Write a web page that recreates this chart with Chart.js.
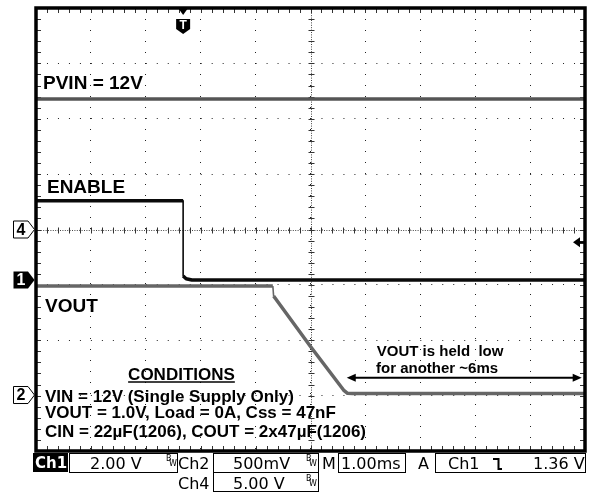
<!DOCTYPE html>
<html>
<head>
<meta charset="utf-8">
<title>Scope capture</title>
<script src="https://cdn.jsdelivr.net/npm/chart.js@4.4.1/dist/chart.umd.min.js"></script>
<style>
  html, body { margin: 0; padding: 0; background: #fff; }
  #wrap { width: 598px; height: 496px; }
</style>
</head>
<body>
<div id="wrap"><canvas id="ScopeCanvas" width="598" height="496"></canvas></div>
<script>
// screen is 10 div across, 8 div tall (y = 0 at centre line)
var timePerDiv = 1.0;      // ms/div
var triggerDiv = 2.68;     // trigger position, div from left edge
var triggerLevel = 1.36;   // V, Ch1 falling

// channel setup: volts/div and ground marker position (div from centre)
var ch1Scale = 2.0, ch1Offset = -0.912;   // ENABLE
var ch2Scale = 0.5, ch2Offset = -2.989;   // VOUT
var ch4Scale = 5.0, ch4Offset = 0;        // PVIN

// traces, time in ms from trigger
var pvinTime  = [-2.68, 7.32];
var pvinVolts = [11.78, 11.78];

var enableTime  = [-2.68, 0, 0, 0.055, 0.16, 7.32];
var enableVolts = [2.864, 2.864, 0.144, 0.047, 0, 0];

var voutTime  = [-2.68, 1.634, 1.648, 2.313, 2.922, 2.995, 3.08, 7.32];
var voutVolts = [0.984, 0.984, 0.894, 0.442, 0.045, 0.015, 0.014, 0.014];

// status bar readouts
var chLabels   = ["Ch1", "Ch2", "Ch4"];
var chReadouts = ["2.00 V", "500mV", "5.00 V"];
var timeReadout = "1.00ms";

var BOLD = '"Liberation Sans", Arial, sans-serif';
var MONO = '"DejaVu Sans", sans-serif';

function toPoints(times, volts, scale, offset) {
    return times.map(function (t, i) {
        return { x: triggerDiv + t / timePerDiv, y: offset + volts[i] / scale };
    });
}

function thinVertical(c) {
    return Math.abs(c.p0.parsed.x - c.p1.parsed.x) < 0.03 ? 1.6 : undefined;
}

function seg(ctx, x1, y1, x2, y2) {
    ctx.beginPath();
    ctx.moveTo(x1, y1);
    ctx.lineTo(x2, y2);
    ctx.stroke();
}

function drawChannelTag(ctx, label, y, filled) {
    ctx.beginPath();
    ctx.moveTo(13.5, y - 8.5);
    ctx.lineTo(28, y - 8.5);
    ctx.lineTo(34.5, y);
    ctx.lineTo(28, y + 8.5);
    ctx.lineTo(13.5, y + 8.5);
    ctx.closePath();
    if (filled) {
        ctx.fillStyle = "#000";
        ctx.fill();
    } else {
        ctx.fillStyle = "#fff";
        ctx.fill();
        ctx.strokeStyle = "#000";
        ctx.lineWidth = 1;
        ctx.stroke();
    }
    ctx.fillStyle = filled ? "#fff" : "#000";
    ctx.font = "bold 16px " + BOLD;
    ctx.textAlign = "center";
    ctx.textBaseline = "middle";
    ctx.fillText(label, 21, y + 1);
}

function drawBW(ctx, x, y) {
    ctx.font = "8px " + MONO;
    ctx.fillStyle = "#000";
    ctx.textAlign = "left";
    ctx.textBaseline = "alphabetic";
    ctx.fillText("B", x, y);
    ctx.fillText("W", x + 3, y + 5);
}

function drawStatusBar(ctx) {
    ctx.save();
    ctx.textAlign = "left";
    ctx.textBaseline = "alphabetic";
    ctx.strokeStyle = "#000";
    ctx.lineWidth = 1;

    // row 1
    ctx.fillStyle = "#000";
    ctx.fillRect(33, 453, 35, 19);
    ctx.fillStyle = "#fff";
    ctx.font = "bold 15px " + MONO;
    ctx.fillText(chLabels[0], 35, 468);

    ctx.fillStyle = "#000";
    ctx.font = "16px " + MONO;
    ctx.strokeRect(69.5, 453.5, 108, 19);
    ctx.fillText(chReadouts[0], 90, 469);
    drawBW(ctx, 166, 461);

    ctx.font = "16px " + MONO;
    ctx.fillText(chLabels[1], 178, 469);
    ctx.strokeRect(213.5, 453.5, 105, 19);
    ctx.fillText(chReadouts[1], 233, 469);
    drawBW(ctx, 306, 461);

    ctx.font = "16px " + MONO;
    ctx.fillText("M", 322, 469);
    ctx.strokeRect(338.5, 453.5, 67, 19);
    ctx.fillText(timeReadout, 341, 469);

    ctx.fillText("A", 418, 469);
    ctx.strokeRect(435.5, 453.5, 150, 19);
    ctx.fillText("Ch1", 448, 469);
    ctx.lineWidth = 2;
    ctx.beginPath();
    ctx.moveTo(493, 459);
    ctx.lineTo(498.5, 459);
    ctx.lineTo(498.5, 469);
    ctx.lineTo(502, 469);
    ctx.stroke();
    ctx.lineWidth = 1;
    ctx.fillText(triggerLevel.toFixed(2) + " V", 533, 469);

    // row 2
    ctx.fillText(chLabels[2], 178, 489);
    ctx.strokeRect(213.5, 472.5, 105, 19);
    ctx.fillText(chReadouts[2], 233, 489);
    drawBW(ctx, 306, 481);
    ctx.restore();
}

var graticule = {
    id: "graticule",
    beforeDatasetsDraw: function (chart) {
        var ctx = chart.ctx, a = chart.chartArea;
        var xs = chart.scales.x, ys = chart.scales.y;
        var cx = Math.round(xs.getPixelForValue(5)) + 0.5;
        var cy = Math.round(ys.getPixelForValue(0)) + 0.5;
        ctx.save();
        ctx.strokeStyle = "#444";
        ctx.lineWidth = 1;
        ctx.setLineDash([1, 1.4]);
        seg(ctx, cx, a.top, cx, a.bottom);
        seg(ctx, a.left, cy, a.right, cy);
        ctx.setLineDash([]);
        ctx.strokeStyle = "#333";
        for (var i = 1; i < 50; i++) {
            var px = Math.round(xs.getPixelForValue(i * 0.2)) + 0.5;
            seg(ctx, px, cy - 3, px, cy + 3);
            seg(ctx, px, a.top, px, a.top + 5);
            seg(ctx, px, a.bottom - 5, px, a.bottom);
        }
        for (var j = 1; j < 40; j++) {
            var py = Math.round(ys.getPixelForValue(-4 + j * 0.2)) + 0.5;
            seg(ctx, cx - 3, py, cx + 3, py);
            seg(ctx, a.left, py, a.left + 5, py);
            seg(ctx, a.right - 5, py, a.right, py);
        }
        ctx.restore();
    }
};

var overlay = {
    id: "overlay",
    afterDatasetsDraw: function (chart) {
        var ctx = chart.ctx, a = chart.chartArea;
        var xs = chart.scales.x, ys = chart.scales.y;
        function X(v) { return xs.getPixelForValue(v); }
        function Y(v) { return ys.getPixelForValue(v); }

        ctx.save();
        // frame
        ctx.strokeStyle = "#000";
        ctx.lineWidth = 3.5;
        ctx.strokeRect(a.left, a.top, a.right - a.left, a.bottom - a.top);

        // trigger position marker
        var tx = X(triggerDiv);
        ctx.fillStyle = "#000";
        ctx.beginPath();
        ctx.moveTo(tx - 5, a.top);
        ctx.lineTo(tx + 5, a.top);
        ctx.lineTo(tx, a.top + 7);
        ctx.closePath();
        ctx.fill();
        ctx.beginPath();
        ctx.moveTo(tx - 7, a.top + 11);
        ctx.lineTo(tx + 7, a.top + 11);
        ctx.lineTo(tx + 7, a.top + 21);
        ctx.lineTo(tx, a.top + 26);
        ctx.lineTo(tx - 7, a.top + 21);
        ctx.closePath();
        ctx.fill();
        ctx.fillStyle = "#fff";
        ctx.font = "bold 12px " + BOLD;
        ctx.textAlign = "center";
        ctx.textBaseline = "middle";
        ctx.fillText("T", tx, a.top + 18);

        // channel ground markers
        drawChannelTag(ctx, "4", Y(ch4Offset), false);
        drawChannelTag(ctx, "1", Y(ch1Offset), true);
        drawChannelTag(ctx, "2", Y(ch2Offset), false);

        // trigger level arrow
        var ty = Y(ch1Offset + triggerLevel / ch1Scale);
        ctx.fillStyle = "#000";
        ctx.beginPath();
        ctx.moveTo(a.right - 12, ty);
        ctx.lineTo(a.right - 5, ty - 5);
        ctx.lineTo(a.right - 5, ty + 5);
        ctx.closePath();
        ctx.fill();
        ctx.fillRect(a.right - 6, ty - 1, 6, 2.5);

        // labels
        ctx.fillStyle = "#000";
        ctx.textAlign = "left";
        ctx.textBaseline = "alphabetic";
        ctx.font = "bold 19px " + BOLD;
        ctx.fillText("PVIN = 12V", X(0.128), Y(2.532));
        ctx.fillText("ENABLE", X(0.2), Y(0.665));
        ctx.fillText("VOUT", X(0.164), Y(-1.49));

        ctx.font = "bold 17px " + BOLD;
        ctx.textAlign = "center";
        ctx.fillText("CONDITIONS", X(2.65), Y(-2.718));
        var w = ctx.measureText("CONDITIONS").width;
        ctx.lineWidth = 1.5;
        seg(ctx, X(2.65) - w / 2, Y(-2.754), X(2.65) + w / 2, Y(-2.754));
        ctx.textAlign = "left";
        ctx.fillText("VIN = 12V (Single Supply Only)", X(0.164), Y(-3.11));
        ctx.fillText("VOUT = 1.0V, Load = 0A, Css = 47nF", X(0.164), Y(-3.41));
        ctx.fillText("CIN = 22\u00b5F(1206), COUT = 2x47\u00b5F(1206)", X(0.164), Y(-3.742));

        ctx.font = "bold 15px " + BOLD;
        ctx.fillText("VOUT is held  low", X(6.206), Y(-2.284));
        ctx.fillText("for another ~6ms", X(6.193), Y(-2.586));

        // hold-off arrow
        var ay = Y(-2.676), ax1 = X(5.66), ax2 = X(9.94);
        ctx.lineWidth = 2;
        seg(ctx, ax1 + 6, ay, ax2 - 6, ay);
        ctx.beginPath();
        ctx.moveTo(ax1, ay);
        ctx.lineTo(ax1 + 9, ay - 4);
        ctx.lineTo(ax1 + 9, ay + 4);
        ctx.closePath();
        ctx.fill();
        ctx.beginPath();
        ctx.moveTo(ax2, ay);
        ctx.lineTo(ax2 - 9, ay - 4);
        ctx.lineTo(ax2 - 9, ay + 4);
        ctx.closePath();
        ctx.fill();
        ctx.restore();

        drawStatusBar(ctx);
    }
};

function InitScopeChart() {
    var ctx = document.getElementById("ScopeCanvas");

    new Chart(ctx, {
        type: 'line',
        data: {
            datasets: [
                {
                    label: "PVIN",
                    data: toPoints(pvinTime, pvinVolts, ch4Scale, ch4Offset),
                    borderColor: "#555555",
                    borderWidth: 3.5
                },
                {
                    label: "VOUT",
                    data: toPoints(voutTime, voutVolts, ch2Scale, ch2Offset),
                    borderColor: "#666666",
                    borderWidth: 3.5,
                    segment: { borderWidth: thinVertical }
                },
                {
                    label: "ENABLE",
                    data: toPoints(enableTime, enableVolts, ch1Scale, ch1Offset),
                    borderColor: "#0a0a0a",
                    borderWidth: 3.5,
                    segment: { borderWidth: thinVertical }
                }
            ]
        },
        options: {
            responsive: false,
            animation: false,
            layout: { padding: { left: 36, top: 8, right: 13, bottom: 45 } },
            elements: {
                point: { radius: 0 },
                line: { tension: 0, borderJoinStyle: 'round' }
            },
            plugins: {
                legend: { display: false },
                tooltip: { enabled: false }
            },
            scales: {
                x: {
                    type: 'linear',
                    min: 0,
                    max: 10,
                    ticks: { stepSize: 1, display: false },
                    grid: { drawTicks: false, color: "#222", lineWidth: 1 },
                    border: { display: false, dash: [1, 10] }
                },
                y: {
                    type: 'linear',
                    min: -4,
                    max: 4,
                    ticks: { stepSize: 1, display: false },
                    grid: { drawTicks: false, color: "#222", lineWidth: 1 },
                    border: { display: false, dash: [1, 9.98] }
                }
            }
        },
        plugins: [graticule, overlay]
    });
}

InitScopeChart();
</script>
</body>
</html>
